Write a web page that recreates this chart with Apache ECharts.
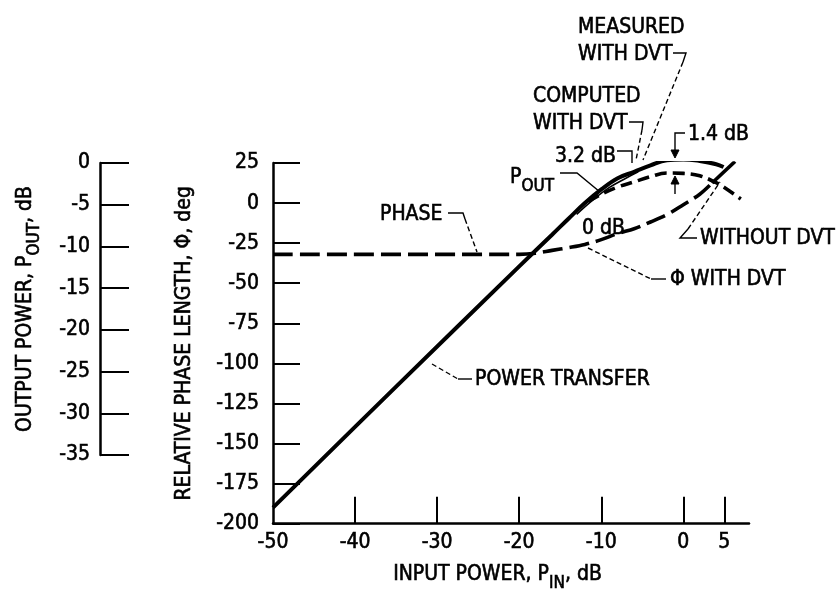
<!DOCTYPE html>
<html>
<head>
<meta charset="utf-8">
<script src="https://cdn.jsdelivr.net/npm/echarts@6/dist/echarts.min.js"></script>
<style>
html,body{margin:0;padding:0;background:#fff;}
#chart{width:837px;height:597px;}
</style>
</head>
<body>
<div id="chart"></div>
<script>
// ---- data ----
// input power, dB
const pinMeasured = [-50, -35, -20, -16, -14, -12, -10, -8, -6, -4, -2, 0, 2, 4, 4.9];
// output power measured with DVT, dB
const poutMeasured = [-43.0, -27.9, -12.9, -8.95, -6.95, -5.0, -3.3, -1.9, -1.1, -0.3, 0.35, 0.45, 0.25, -0.15, -0.5];
// output power computed with DVT, dB
const pinComputed = [-13, -11, -9, -7, -5.5];
const poutComputed = [-6.4, -4.6, -3.05, -1.9, -1.1];
// output power without DVT, dB
const pinNoDvt = [-11.6, -10, -8, -6, -4, -2, 0, 2, 4, 5, 7];
const poutNoDvt = [-4.8, -3.9, -3.0, -2.35, -1.7, -1.25, -1.3, -1.6, -2.45, -3.05, -4.5];
// relative phase length with DVT, deg
const pinPhase = [-50, -20, -18, -16, -14, -12, -10, -8, -6, -4, -2, 0, 2, 3.5];
const phaseDvt = [-32, -32, -31.3, -29.5, -27.8, -25.8, -22.8, -19.0, -16.0, -11.8, -7.2, -1.0, 5.5, 12.5];
const pinPhaseEnd = [3.5, 6.3];
const phaseEnd = [12.5, 26];
// axis ticks / labels
const xTickValues = [-40, -30, -20, -10, 0, 5];
const xLabelValues = [-50, -40, -30, -20, -10, 0, 5];

const FONT = '"DejaVu Sans Condensed", "Liberation Sans Narrow", "DejaVu Sans", sans-serif';
const INK = '#000';
const FS = 21;
const BW = 0.6; // slight text emboldening

function pairs(xs, ys) { return xs.map((x, i) => [x, ys[i]]); }

const chart = echarts.init(document.getElementById('chart'), null, {renderer: 'canvas'});

const labelStyle = {color: INK, fontFamily: FONT, fontSize: FS, textBorderColor: INK, textBorderWidth: BW};
const richTitle = {
  a: {color: INK, fontFamily: FONT, fontSize: FS, lineHeight: 34, textBorderColor: INK, textBorderWidth: BW},
  s: {color: INK, fontFamily: FONT, fontSize: 17, lineHeight: 17, verticalAlign: 'bottom', textBorderColor: INK, textBorderWidth: BW}
};

// annotation helpers (layout only)
function txt(x, y, text, rich) {
  return {type: 'text', x: x, y: y, silent: true,
    style: {text: text, fill: INK, fontFamily: FONT, fontSize: FS,
      stroke: INK, lineWidth: BW,
      verticalAlign: 'middle', align: 'left', rich: rich}};
}
function pl(points, dashed) {
  return {type: 'polyline', silent: true, shape: {points: points},
    style: {stroke: INK, fill: null, lineWidth: 1.4, lineDash: dashed ? [5, 3] : null}};
}
function head(points) {
  return {type: 'polygon', silent: true, shape: {points: points}, style: {fill: INK, stroke: INK, lineWidth: 1}};
}

const richP = {
  p: {fill: INK, fontFamily: FONT, fontSize: FS, lineHeight: 34, stroke: INK, lineWidth: BW},
  s: {fill: INK, fontFamily: FONT, fontSize: 17, lineHeight: 17, verticalAlign: 'bottom', stroke: INK, lineWidth: BW}
};

const option = {
  animation: false,
  backgroundColor: '#fff',
  grid: [
    {left: 273, top: 163, width: 476, height: 373, containLabel: false},
    {left: 100, top: 163, width: 30, height: 292, containLabel: false}
  ],
  xAxis: [
    {
      gridIndex: 0, type: 'value', min: -50, max: 8,
      axisLine: {show: true, onZero: false, lineStyle: {color: INK, width: 2.5}},
      axisTick: {show: true, inside: true, length: 27, customValues: xTickValues, lineStyle: {color: INK, width: 2}},
      axisLabel: {show: true, margin: 8, customValues: xLabelValues, ...labelStyle},
      splitLine: {show: false},
      name: '{a|INPUT POWER, P}{s|IN}{a|, dB}',
      nameLocation: 'middle', nameGap: 34,
      nameTextStyle: {rich: richTitle, padding: [0, 27, 0, 0]}
    },
    {gridIndex: 1, type: 'value', min: 0, max: 1, show: false}
  ],
  yAxis: [
    {
      gridIndex: 0, type: 'value', min: -200, max: 25, interval: 25,
      axisLine: {show: true, onZero: false, lineStyle: {color: INK, width: 2.5}},
      axisTick: {show: true, inside: true, length: 27, lineStyle: {color: INK, width: 2}},
      axisLabel: {show: true, margin: 14, ...labelStyle},
      splitLine: {show: false},
      name: '{a|RELATIVE PHASE LENGTH, Φ, deg}',
      nameLocation: 'middle', nameGap: 71,
      nameTextStyle: {rich: richTitle}
    },
    {gridIndex: 0, type: 'value', min: -45, max: 0, show: false},
    {
      gridIndex: 1, type: 'value', min: -35, max: 0, interval: 5,
      axisLine: {show: true, onZero: false, lineStyle: {color: INK, width: 2.5}},
      axisTick: {show: true, inside: true, length: 29, lineStyle: {color: INK, width: 2}},
      axisLabel: {show: true, margin: 10, ...labelStyle},
      splitLine: {show: false},
      name: '{a|OUTPUT POWER, P}{s|OUT}{a|, dB}',
      nameLocation: 'middle', nameGap: 57,
      nameTextStyle: {rich: richTitle}
    }
  ],
  series: [
    {
      name: 'Pout measured with DVT', type: 'line', xAxisIndex: 0, yAxisIndex: 1,
      data: pairs(pinMeasured, poutMeasured), smooth: 0.4, showSymbol: false,
      lineStyle: {color: INK, width: 4}
    },
    {
      name: 'Pout computed with DVT', type: 'line', xAxisIndex: 0, yAxisIndex: 1,
      data: pairs(pinComputed, poutComputed), smooth: 0.4, showSymbol: false,
      lineStyle: {color: INK, width: 1.6}
    },
    {
      name: 'Pout without DVT', type: 'line', xAxisIndex: 0, yAxisIndex: 1,
      data: pairs(pinNoDvt, poutNoDvt), smooth: 0.4, showSymbol: false,
      lineStyle: {color: INK, width: 3.6, type: [12, 6]}
    },
    {
      name: 'Phase with DVT', type: 'line', xAxisIndex: 0, yAxisIndex: 0,
      data: pairs(pinPhase, phaseDvt), smooth: 0.35, showSymbol: false,
      lineStyle: {color: INK, width: 3.6, type: [20, 7]}
    },
    {
      name: 'Phase with DVT (end)', type: 'line', xAxisIndex: 0, yAxisIndex: 0,
      data: pairs(pinPhaseEnd, phaseEnd), showSymbol: false,
      lineStyle: {color: INK, width: 3.6}
    }
  ],
  graphic: [
    txt(578, 28, 'MEASURED'),
    txt(578, 55, 'WITH DVT'),
    pl([[673, 53], [686, 53], [683, 62]], false),
    pl([[683, 62], [643, 160]], true),
    txt(533, 97, 'COMPUTED'),
    txt(533, 124, 'WITH DVT'),
    pl([[629, 122], [643, 122], [642, 130]], false),
    pl([[642, 130], [636, 160]], true),
    txt(555, 157, '3.2 dB'),
    pl([[617, 151], [632, 151], [632, 163]], false),
    txt(688, 135, '1.4 dB'),
    pl([[685, 133], [675, 133], [675, 152]], false),
    head([[671, 150], [679, 150], [675, 158]]),
    pl([[675, 194], [675, 182]], false),
    head([[671, 184], [679, 184], [675, 176]]),
    txt(510, 178, '{p|P}{s|OUT}', richP),
    pl([[560, 173], [577, 173], [600, 192]], false),
    txt(380, 215, 'PHASE'),
    pl([[448, 213], [463, 213], [465, 219]], false),
    pl([[465, 219], [477, 252]], true),
    txt(582, 229, '0 dB'),
    txt(700, 239, 'WITHOUT DVT'),
    pl([[697, 238], [680, 238], [688, 229]], false),
    pl([[688, 229], [720, 182]], true),
    txt(670, 280, 'Φ WITH DVT'),
    pl([[588, 248], [651, 279]], true),
    pl([[651, 279], [666, 279]], false),
    txt(475, 380, 'POWER TRANSFER'),
    pl([[432, 364], [458, 379]], true),
    pl([[458, 379], [472, 379]], false)
  ]
};

chart.setOption(option);
</script>
</body>
</html>
